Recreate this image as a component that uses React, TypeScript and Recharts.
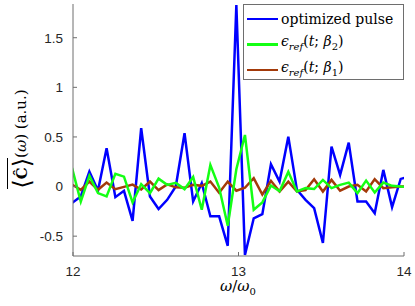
import React from 'react';
import { LineChart, Line, XAxis, YAxis, Legend } from 'recharts';

// frequency grid (omega / omega_0), first and last points sit just outside the axes
const FREQ = [
  11.994, 12.047, 12.099, 12.151, 12.203, 12.256, 12.308, 12.36, 12.412, 12.465,
  12.517, 12.569, 12.621, 12.674, 12.726, 12.778, 12.83, 12.883, 12.935, 12.987,
  13.039, 13.092, 13.144, 13.196, 13.248, 13.301, 13.353, 13.405, 13.457, 13.51,
  13.562, 13.614, 13.666, 13.719, 13.771, 13.823, 13.875, 13.928, 13.98, 14.032,
];

const OPTIMIZED = [
  -0.165, -0.1, 0.15, -0.04, 0.386, -0.107, -0.043, -0.345, 0.588, -0.1,
  -0.227, -0.134, 0.0, 0.537, -0.15, 0.034, -0.3, -0.3, -0.597, 1.83,
  -0.69, -0.32, -0.278, 0.225, 0.05, 0.503, -0.033, -0.134, -0.217, -0.569,
  0.402, 0.118, 0.443, -0.151, -0.151, -0.268, 0.168, -0.207, 0.077, 0.1,
];

const REF_BETA2 = [
  0.188, -0.151, 0.108, -0.066, -0.1, 0.128, 0.1, -0.16, 0.024, -0.066,
  0.08, 0.017, 0.037, -0.026, 0.097, -0.234, 0.218, -0.01, -0.395, 0.175,
  0.52, -0.234, -0.16, 0.01, -0.047, 0.148, -0.05, -0.016, -0.025, 0.067,
  -0.016, 0.017, 0.04, -0.066, 0.06, -0.06, 0.04, 0.007, 0.0, -0.005,
];

const REF_BETA1 = [
  0.02, -0.033, 0.05, -0.033, 0.04, -0.026, -0.003, 0.02, -0.03, 0.05,
  -0.036, 0.022, -0.008, -0.012, 0.017, 0.007, 0.05, -0.063, 0.05, -0.042,
  -0.012, 0.084, -0.08, 0.058, -0.05, 0.05, -0.05, -0.035, 0.074, -0.05,
  0.067, -0.042, 0.0, 0.017, -0.05, 0.075, -0.016, -0.008, 0.0, 0.0,
];

const X_TICKS = [12, 13, 14];
const Y_TICKS = [-0.5, 0, 0.5, 1, 1.5];

const BLUE = '#0000ff';
const GREEN = '#14ff14';
const BROWN = '#a33a0a';
const AXIS = '#6e6e6e';
const TEXT = '#262626';
const SERIF = '"DejaVu Serif", "Liberation Serif", serif';

const data = FREQ.map((x, i) => ({
  x,
  opt: OPTIMIZED[i],
  b2: REF_BETA2[i],
  b1: REF_BETA1[i],
}));

const tickStyle = { fill: TEXT, fontSize: 13.5, fontFamily: '"Liberation Sans", Arial, sans-serif' };
const noLabel = () => <g />;

const Eps = ({ beta }: { beta: string }) => (
  <span>
    <i>ϵ</i>
    <sub style={{ fontSize: 10, fontStyle: 'italic' }}>ref</sub>(<i>t</i>; <i>β</i>
    <sub style={{ fontSize: 10 }}>{beta}</sub>)
  </span>
);

const LEGEND_ROWS = [
  { color: BLUE, label: <span>optimized pulse</span> },
  { color: GREEN, label: <Eps beta="2" /> },
  { color: BROWN, label: <Eps beta="1" /> },
];

const LegendBox = () => (
  <div
    style={{
      width: 159,
      height: 73,
      border: `1px solid ${AXIS}`,
      background: '#fff',
      fontFamily: SERIF,
      fontSize: 14,
      color: '#000',
      paddingTop: 1,
    }}
  >
    {LEGEND_ROWS.map((r, i) => (
      <div key={i} style={{ display: 'flex', alignItems: 'center', height: 25.5, lineHeight: '16px' }}>
        <div style={{ width: 31, height: 2.5, background: r.color, marginLeft: 3, marginRight: 3 }} />
        {r.label}
      </div>
    ))}
  </div>
);

export default function App() {
  return (
    <div style={{ position: 'absolute', left: 0, top: 0, width: 415, height: 306, background: '#fff' }}>
      <LineChart width={415} height={306} data={data} margin={{ top: 4, right: 11, left: 13, bottom: 20 }}>
        <XAxis
          dataKey="x"
          type="number"
          domain={[12, 14]}
          ticks={X_TICKS}
          allowDataOverflow
          height={30}
          stroke={AXIS}
          tick={tickStyle}
          tickSize={-4}
          tickMargin={14}
        />
        <XAxis
          xAxisId="top"
          orientation="top"
          dataKey="x"
          type="number"
          domain={[12, 14]}
          ticks={X_TICKS}
          allowDataOverflow
          height={0}
          stroke={AXIS}
          tick={noLabel}
          tickSize={-4}
        />
        <YAxis
          type="number"
          domain={[-0.7, 1.84]}
          ticks={Y_TICKS}
          allowDataOverflow
          width={60}
          stroke={AXIS}
          tick={tickStyle}
          tickSize={-4}
          tickMargin={14}
        />
        <YAxis
          yAxisId="right"
          orientation="right"
          type="number"
          domain={[-0.7, 1.84]}
          ticks={Y_TICKS}
          allowDataOverflow
          width={0}
          stroke={AXIS}
          tick={noLabel}
          tickSize={-4}
        />
        <Line dataKey="opt" stroke={BLUE} strokeWidth={2.5} dot={false} isAnimationActive={false} />
        <Line dataKey="b1" stroke={BROWN} strokeWidth={2.5} dot={false} isAnimationActive={false} />
        <Line dataKey="b2" stroke={GREEN} strokeWidth={2.5} dot={false} isAnimationActive={false} />
        <Legend
          layout="vertical"
          align="center"
          verticalAlign="middle"
          content={() => <LegendBox />}
          wrapperStyle={{ left: 243, top: 4, width: 161, height: 75 }}
        />
      </LineChart>

      {/* axis titles */}
      <div
        style={{
          position: 'absolute',
          left: 238,
          top: 279,
          transform: 'translateX(-50%)',
          fontFamily: SERIF,
          fontSize: 15,
          lineHeight: '15px',
          color: '#000',
          whiteSpace: 'nowrap',
        }}
      >
        <i>ω</i>/<i>ω</i>
        <sub style={{ fontSize: 10, lineHeight: 0 }}>0</sub>
      </div>
      <div
        style={{
          position: 'absolute',
          left: 21 - 80,
          top: 139 - 16,
          width: 160,
          height: 32,
          transform: 'rotate(-90deg)',
          transformOrigin: '50% 50%',
          fontFamily: SERIF,
          fontSize: 15,
          color: '#000',
          whiteSpace: 'nowrap',
          display: 'flex',
          alignItems: 'center',
          justifyContent: 'center',
        }}
      >
        <span style={{ borderTop: '1.5px solid #000', display: 'inline-flex', alignItems: 'center', lineHeight: '28px' }}>
          <span style={{ fontSize: 24, fontWeight: 200 }}>⟨</span>
          <b>Ĉ</b>
          <span style={{ fontSize: 24, fontWeight: 200 }}>⟩</span>
        </span>
        <span>
          (<i>ω</i>) (a.u.)
        </span>
      </div>
    </div>
  );
}
